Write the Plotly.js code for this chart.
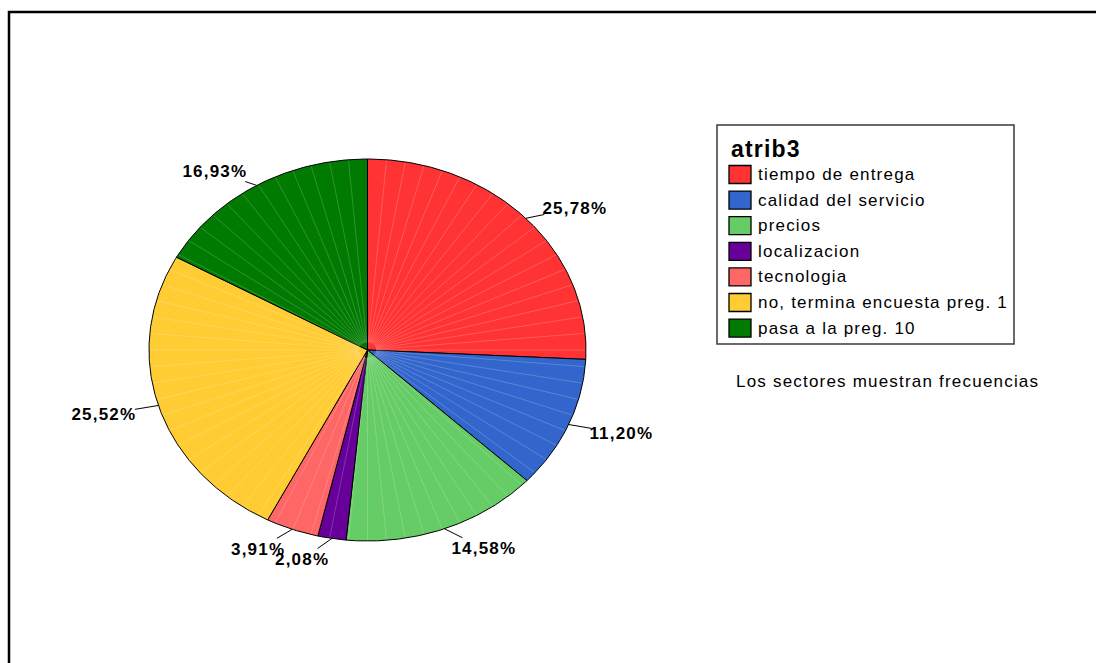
<!DOCTYPE html>
<html>
<head>
<meta charset="utf-8">
<script src="https://cdn.plot.ly/plotly-3.0.1.min.js"></script>
<style>
html,body{margin:0;padding:0;background:#fff;}
.main-svg text{letter-spacing:1.2px;}
</style>
</head>
<body>
<div id="chart" style="width:1096px;height:663px;"></div>
<script>
// ---- data ----
const legendTitle = 'atrib3';
const categories = ['tiempo de entrega','calidad del servicio','precios','localizacion','tecnologia','no, termina encuesta preg. 1','pasa a la preg. 10'];
const frequencies = [99, 43, 56, 8, 15, 98, 65];
const sliceColors = ['#FF3333','#3366CC','#66CC66','#660099','#FF6666','#FFCC33','#007A00'];
const footnote = 'Los sectores muestran frecuencias';

// ---- geometry / styling (pixel space) ----
const cx = 367.5, cy = 350, rx = 218.5, ry = 191;
const labelOffsets = [[49,-10],[53,9],[40,20],[-30,21],[-34,20],[-54,9],[-42,-14]];
const font = 'Arial, "Liberation Sans", sans-serif';

function pt(f, k){ k = (k===undefined)?1:k; const t = 2*Math.PI*f; return [cx + k*rx*Math.sin(t), cy - k*ry*Math.cos(t)]; }

const total = frequencies.reduce((a,b)=>a+b,0);
const traces = [];
const annotations = [];
const shapes = [];
let cum = 0;
frequencies.forEach((v,i)=>{
  const f0 = cum/total, f1 = (cum+v)/total;
  const xs=[cx], ys=[cy];
  const n = Math.max(2, Math.ceil((f1-f0)*720));
  for(let j=0;j<=n;j++){ const p = pt(f0+(f1-f0)*j/n); xs.push(p[0]); ys.push(p[1]); }
  xs.push(cx); ys.push(cy);
  traces.push({type:'scatter', mode:'lines', x:xs, y:ys, fill:'toself', fillcolor:sliceColors[i],
    line:{color:'#000', width:1}, hoverinfo:'skip', showlegend:false});
  const mid = pt((f0+f1)/2);
  const pct = (v/total*100).toFixed(2).replace('.', ',') + '%';
  annotations.push({x:mid[0], y:mid[1], xref:'x', yref:'y', text:pct, showarrow:true, arrowhead:0,
    arrowwidth:1, arrowcolor:'#000', standoff:0, ax:labelOffsets[i][0], ay:labelOffsets[i][1],
    font:{family:font, size:17, color:'#000', weight:'bold'}});
  cum += v;
});

// faint texture lines (SPSS rendering)
const lx=[], ly=[];
for(let d=5; d<360; d+=5){ const a=pt(d/360,0.04), b=pt(d/360,0.995); lx.push(a[0],b[0],null); ly.push(a[1],b[1],null); }
traces.push({type:'scatter', mode:'lines', x:lx, y:ly, line:{color:'rgba(255,255,255,0.28)', width:0.7}, hoverinfo:'skip', showlegend:false});

// outer frame
shapes.push({type:'rect', xref:'x', yref:'y', x0:9, y0:12, x1:1300, y1:900, line:{color:'#000', width:2.5}});
// legend box
shapes.push({type:'rect', xref:'x', yref:'y', x0:717, y0:125, x1:1014, y1:344, line:{color:'#3a3a3a', width:1.5}, fillcolor:'rgba(0,0,0,0)'});
annotations.push({x:729, y:164, xref:'x', yref:'y', text:legendTitle, showarrow:false, xanchor:'left', yanchor:'bottom', align:'left',
  font:{family:font, size:23, color:'#000', weight:'bold'}});
categories.forEach((c,i)=>{
  const yc = 174.5 + i*25.6;
  shapes.push({type:'rect', xref:'x', yref:'y', x0:729, x1:751, y0:yc-9, y1:yc+9, fillcolor:sliceColors[i], line:{color:'#000', width:1.3}});
  annotations.push({x:756, y:yc, xref:'x', yref:'y', text:c, showarrow:false, xanchor:'left', yanchor:'middle', align:'left',
    font:{family:font, size:17, color:'#000'}});
});
annotations.push({x:734, y:381, xref:'x', yref:'y', text:footnote, showarrow:false, xanchor:'left', yanchor:'middle', align:'left',
  font:{family:font, size:17, color:'#000'}});

const layout = {
  width:1096, height:663, autosize:false,
  margin:{l:0,r:0,t:0,b:0,pad:0},
  paper_bgcolor:'#fff', plot_bgcolor:'#fff',
  xaxis:{range:[0,1096], visible:false, fixedrange:true},
  yaxis:{range:[663,0], visible:false, fixedrange:true},
  shapes:shapes, annotations:annotations, showlegend:false
};
Plotly.newPlot('chart', traces, layout, {displayModeBar:false, staticPlot:true});
</script>
</body>
</html>
